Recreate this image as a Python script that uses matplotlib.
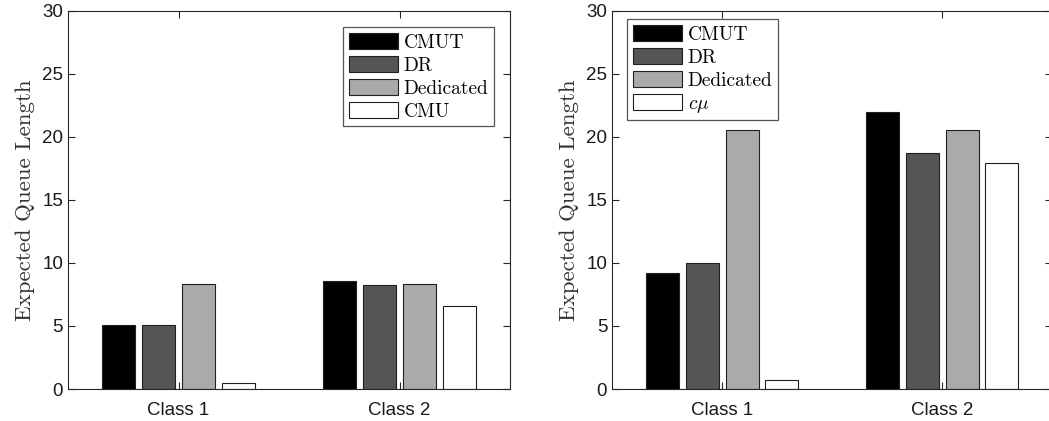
import numpy as np
import matplotlib
matplotlib.use("Agg")
import matplotlib.pyplot as plt

plt.rcParams['mathtext.fontset'] = 'cm'

classes = ["Class 1", "Class 2"]
methods_left = ["CMUT", "DR", "Dedicated", "CMU"]
methods_right = ["CMUT", "DR", "Dedicated", r"$c\mu$"]

# expected queue length per method, [class 1, class 2]
left_cmut = [5.05, 8.54]
left_dr = [5.05, 8.23]
left_dedicated = [8.36, 8.36]
left_cmu = [0.50, 6.61]

right_cmut = [9.23, 22.01]
right_dr = [10.0, 18.76]
right_dedicated = [20.58, 20.58]
right_cmu = [0.71, 17.94]

bar_colors = ["#000000", "#555555", "#aaaaaa", "#ffffff"]
offsets = [-0.272, -0.091, 0.091, 0.272]
bar_w = 0.15
spine_col = "#262626"


def grouped_bars(ax, series, labels, legend_loc, legend_anchor):
    x = np.arange(1, len(classes) + 1)
    for vals, lab, col, off in zip(series, labels, bar_colors, offsets):
        ax.bar(x + off, vals, bar_w, color=col, edgecolor="#202020",
               linewidth=0.8, label=lab)
    ax.set_xlim(0.5, 2.5)
    ax.set_ylim(0, 30)
    ax.set_xticks(x)
    ax.set_xticklabels(classes, family="Liberation Sans", fontsize=13.5)
    ax.set_yticks(np.arange(0, 31, 5))
    ax.tick_params(direction="in", length=5, width=0.8, top=True, right=True,
                   colors=spine_col, labelcolor="#1a1a1a")
    ax.tick_params(axis="x", pad=9)
    for lbl in ax.get_yticklabels():
        lbl.set_family("Liberation Sans")
        lbl.set_fontsize(13.5)
    for sp in ax.spines.values():
        sp.set_color(spine_col)
        sp.set_linewidth(0.8)
    ax.set_ylabel("Expected Queue Length", family="cmr10", fontsize=16.5,
                  color="#333333", labelpad=5)
    leg = ax.legend(loc=legend_loc, bbox_to_anchor=legend_anchor,
                    prop={"family": "cmr10", "size": 14},
                    handlelength=2.5, handleheight=0.95, handletextpad=0.3,
                    labelspacing=0.2, borderpad=0.3, borderaxespad=0,
                    fancybox=False, framealpha=1)
    leg.get_frame().set_edgecolor("#555555")
    leg.get_frame().set_linewidth(0.9)


fig = plt.figure(figsize=(10.49, 4.21), dpi=100)
ax1 = fig.add_axes([0.0648, 0.076, 0.4215, 0.898])
ax2 = fig.add_axes([0.5835, 0.076, 0.4195, 0.898])

grouped_bars(ax1, [left_cmut, left_dr, left_dedicated, left_cmu], methods_left,
             "upper right", (0.964, 0.958))
grouped_bars(ax2, [right_cmut, right_dr, right_dedicated, right_cmu], methods_right,
             "upper left", (0.0345, 0.979))

fig.savefig("out.png", dpi=100)
